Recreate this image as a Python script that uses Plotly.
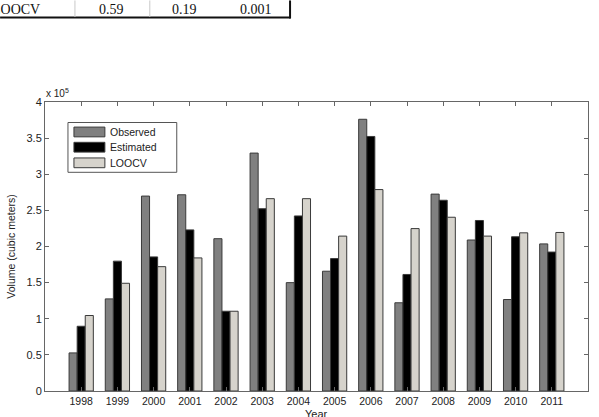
import plotly.graph_objects as go

# ---- data ----
years = [1998, 1999, 2000, 2001, 2002, 2003, 2004, 2005, 2006, 2007, 2008, 2009, 2010, 2011]
observed = [52700, 127500, 269800, 271600, 210800, 329300, 150000, 165800, 376100, 122100, 272500, 209000, 126600, 203600]
estimated = [89600, 179700, 185600, 223000, 110400, 252300, 242300, 183300, 352300, 161300, 264000, 236000, 213500, 192300]
loocv = [104500, 149100, 172100, 184200, 110400, 266200, 266200, 214400, 278800, 224800, 240500, 214400, 218900, 219400]
series_names = ["Observed", "Estimated", "LOOCV"]
series_colors = ["#808080", "#000000", "#d6d3cc"]
y_tickvals = [0, 50000, 100000, 150000, 200000, 250000, 300000, 350000, 400000]
y_ticktext = ["0", "0.5", "1", "1.5", "2", "2.5", "3", "3.5", "4"]
table_label = "LOOCV"
table_values = ["0.59", "0.19", "0.001"]

W, H = 599, 417
ML, MR, MT, MB = 45, 10, 102, 19
PW, PH = W - ML - MR, H - MT - MB


def px(x):
    return (x - ML) / PW


def py(y):
    return (H - MB - y) / PH


fig = go.Figure()
for name, vals, col in zip(series_names, [observed, estimated, loocv], series_colors):
    fig.add_trace(go.Bar(
        x=years, y=vals, name=name,
        marker=dict(color=col, line=dict(color="#3a3a3a", width=1)),
        showlegend=False,
    ))

shapes = []
annotations = []

# manual legend (MATLAB style)
shapes.append(dict(type="rect", xref="paper", yref="paper",
                   x0=px(68), x1=px(177), y0=py(174), y1=py(123),
                   line=dict(color="#555555", width=1), fillcolor="white", layer="above"))
row_centers = [132.7, 148.3, 164.3]
for name, col, yc in zip(series_names, series_colors, row_centers):
    shapes.append(dict(type="rect", xref="paper", yref="paper",
                       x0=px(74), x1=px(105), y0=py(yc + 5), y1=py(yc - 5),
                       line=dict(color="#3a3a3a", width=1), fillcolor=col, layer="above"))
    annotations.append(dict(xref="paper", yref="paper", x=px(108), y=py(yc),
                            xanchor="left", yanchor="middle", showarrow=False,
                            text=name, font=dict(family="Liberation Sans, Arial", size=10.5, color="#222222")))

# exponent label
annotations.append(dict(xref="paper", yref="paper", x=px(44), y=py(101),
                        xanchor="left", yanchor="bottom", showarrow=False,
                        text="x 10<sup>5</sup>", font=dict(family="Liberation Sans, Arial", size=10, color="#222222")))

# x-axis title (mostly cut off at the bottom edge, as in the source)
annotations.append(dict(xref="paper", yref="paper", x=px(317), y=py(413),
                        xanchor="center", yanchor="top", showarrow=False,
                        text="Year", font=dict(family="Liberation Sans, Arial", size=11, color="#222222")))

# table fragment at top
tfont = dict(family="Liberation Serif, Times New Roman", size=14, color="#111111")
annotations.append(dict(xref="paper", yref="paper", x=px(-10), y=py(7),
                        xanchor="left", yanchor="middle", showarrow=False,
                        text=table_label, font=tfont))
for txt, xc in zip(table_values, [112, 185, 256]):
    annotations.append(dict(xref="paper", yref="paper", x=px(xc), y=py(7),
                            xanchor="center", yanchor="middle", showarrow=False,
                            text=txt, font=tfont))
shapes.append(dict(type="line", xref="paper", yref="paper", x0=px(0), x1=px(291),
                   y0=py(15.5), y1=py(15.5), line=dict(color="#111111", width=2)))
shapes.append(dict(type="line", xref="paper", yref="paper", x0=px(290.5), x1=px(290.5),
                   y0=py(-2), y1=py(16.5), line=dict(color="#111111", width=2)))
for xs in [75, 150]:
    shapes.append(dict(type="line", xref="paper", yref="paper", x0=px(xs), x1=px(xs),
                       y0=py(-2), y1=py(15), line=dict(color="#c8c8c8", width=1)))

fig.update_layout(
    width=W, height=H,
    margin=dict(l=ML, r=MR, t=MT, b=MB, pad=0),
    paper_bgcolor="white", plot_bgcolor="white",
    barmode="group", bargap=0.33, bargroupgap=0,
    font=dict(family="Liberation Sans, Arial", size=10.5, color="#222222"),
    xaxis=dict(range=[1997, 2012], tickvals=years, ticktext=[str(y) for y in years],
               showgrid=False, zeroline=False, showline=True, linecolor="#666666", linewidth=1,
               mirror="ticks", ticks="inside", ticklen=4, tickcolor="#666666",
               tickfont=dict(size=10.5, color="#222222")),
    yaxis=dict(range=[0, 400000], tickvals=y_tickvals, ticktext=y_ticktext,
               showgrid=False, zeroline=False, showline=True, linecolor="#666666", linewidth=1,
               mirror="ticks", ticks="inside", ticklen=4, tickcolor="#666666",
               tickfont=dict(size=11, color="#222222"),
               title=dict(text="Volume (cubic meters)", standoff=8,
                          font=dict(size=10.5, color="#222222"))),
    shapes=shapes, annotations=annotations,
)

fig.write_html("out.html")
